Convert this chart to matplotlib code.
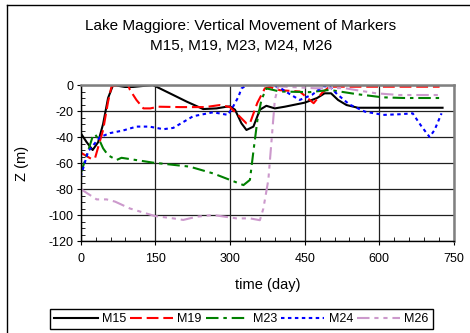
import numpy as np
import matplotlib
matplotlib.use('Agg')
from matplotlib import pyplot as plt
from matplotlib.ticker import MultipleLocator
from matplotlib.lines import Line2D

plt.rcParams['font.family'] = ['Liberation Sans', 'DejaVu Sans']
plt.rcParams['axes.unicode_minus'] = False
plt.rcParams['lines.scale_dashes'] = False

# marker readings: day, vertical position Z (m)
m15_day = [0, 12, 24, 35, 45, 55, 65, 89, 105, 145, 186, 213, 246, 273, 293, 300, 310, 323, 333, 347, 360, 373,
           390, 410, 450, 475, 490, 503, 517, 534, 557, 600, 650, 727]
m15_z = [-37, -44, -50, -44, -30, -10, 0, -1.5, -1.5, 0, -7.7, -12.8, -18.5, -18, -16.7, -16.5, -19, -29.5, -34.6,
         -32, -19, -16, -18, -16.7, -13.6, -10, -6.4, -6.4, -11.5, -15.4, -17.5, -17.5, -17.5, -17.5]

m19_day = [0, 22, 29, 45, 55, 62, 80, 95, 99, 112, 126, 140, 156, 200, 250, 280, 300, 316, 333, 340, 355, 370,
           380, 400, 440, 468, 485, 500, 550, 600, 721]
m19_z = [-52, -57, -56, -34.6, -12.8, -1, 0, 0, -3.8, -11.5, -18, -18, -16.7, -17, -17, -15.4, -17, -23, -29.5,
         -29.5, -13.6, -2.6, -1.5, -4, -5, -14, -6, -1.3, -1.3, -1.3, -1.3]

m23_day = [0, 9, 25, 29, 39, 45, 55, 72, 82, 145, 219, 266, 327, 340, 347, 355, 363, 373, 400, 460, 500, 554,
           607, 650, 721]
m23_z = [-68, -57.7, -38.5, -38, -43.6, -48.7, -54, -57.7, -56, -59.7, -62.8, -68, -77, -73, -51, -27, -11.5,
         -2.6, -5, -5.5, -3.8, -7, -9.5, -10, -10]

m24_day = [0, 15, 39, 59, 85, 112, 138, 166, 186, 226, 266, 296, 306, 317, 323, 335, 360, 384, 400, 420, 440,
           465, 487, 500, 515, 540, 557, 571, 608, 641, 667, 685, 701, 711, 725]
m24_z = [-70.5, -51, -40, -37, -35, -32, -32, -34, -33, -24, -21, -23, -16.7, -9, -2.6, 0, 0, 0, -2, -7, -11.5,
         -7.5, -1, -1, -7, -15, -18, -20.5, -23, -22.5, -21.8, -32, -40, -34.6, -21.8]

m26_day = [0, 32, 52, 69, 99, 149, 186, 206, 233, 266, 313, 340, 360, 367, 377, 384, 390, 397, 420, 470, 530,
           561, 594, 640, 720]
m26_z = [-80, -88, -88, -89.7, -95, -100.8, -102.6, -103.8, -101.3, -100, -102.6, -102.6, -104, -95, -73, -40,
         -11.5, -1, -1.5, -2.5, -2.4, -4.4, -6.4, -7.7, -7.7]

fig = plt.figure(figsize=(4.7, 3.33), dpi=100)
ax = fig.add_axes([80.7 / 470, 1 - 241 / 333, (454 - 80.7) / 470, (241 - 85) / 333])

# chart area border (left and top edges)
fig.add_artist(Line2D([7 / 470, 7 / 470], [0, 1 - 5 / 333], transform=fig.transFigure, color='black', lw=1))
fig.add_artist(Line2D([7 / 470, 1], [1 - 5 / 333, 1 - 5 / 333], transform=fig.transFigure, color='black', lw=1))

lw = 1.5
ax.plot(m15_day, m15_z, color='black', lw=lw, label='M15')
ax.plot(m19_day, m19_z, color='#FF0000', lw=lw, dashes=(8.5, 3.5), label='M19')
ax.plot(m23_day, m23_z, color='#008000', lw=lw, dashes=(9, 3.5, 2.5, 3.5), label='M23')
ax.plot(m24_day, m24_z, color='#0000FF', lw=lw, dashes=(2.5, 2.5), label='M24')
ax.plot(m26_day, m26_z, color='#CC99CC', lw=lw, dashes=(9, 3.5, 3, 3.5, 3, 3.5), label='M26')

ax.set_xlim(0, 750)
ax.set_ylim(-120, 0)
ax.xaxis.set_major_locator(MultipleLocator(150))
ax.xaxis.set_minor_locator(MultipleLocator(30))
ax.yaxis.set_major_locator(MultipleLocator(20))
ax.yaxis.set_minor_locator(MultipleLocator(5))
ax.grid(True, which='major', color='#202020', lw=0.9)
ax.set_axisbelow(True)
ax.tick_params(which='major', direction='out', length=3, labelsize=9, pad=2)
ax.tick_params(which='minor', direction='in', length=3)
ax.tick_params(axis='x', pad=6)

for side in ['top', 'right']:
    ax.spines[side].set_color('#808080')
    ax.spines[side].set_linewidth(1.8)
for side in ['left', 'bottom']:
    ax.spines[side].set_color('black')
    ax.spines[side].set_linewidth(1)

ax.set_xlabel('time (day)', fontsize=10.5)
ax.set_ylabel('Z (m)', fontsize=10.5)
ax.xaxis.set_label_coords(0.5, -0.237)
ax.yaxis.set_label_coords(-0.138, 0.5)

fig.text(241 / 470, 1 - 26 / 333, 'Lake Maggiore: Vertical Movement of Markers', ha='center', va='center', fontsize=11)
fig.text(241 / 470, 1 - 46 / 333, 'M15, M19, M23, M24, M26', ha='center', va='center', fontsize=11)

leg = fig.legend(loc='center', bbox_to_anchor=(241.5 / 470, 1 - 319 / 333), ncol=5, fontsize=9,
                 handlelength=3.45, handletextpad=0.35, columnspacing=0.3, borderpad=0.35,
                 fancybox=False, framealpha=1, edgecolor='black')
leg.get_frame().set_linewidth(1)

fig.savefig('out.png', dpi=100)
